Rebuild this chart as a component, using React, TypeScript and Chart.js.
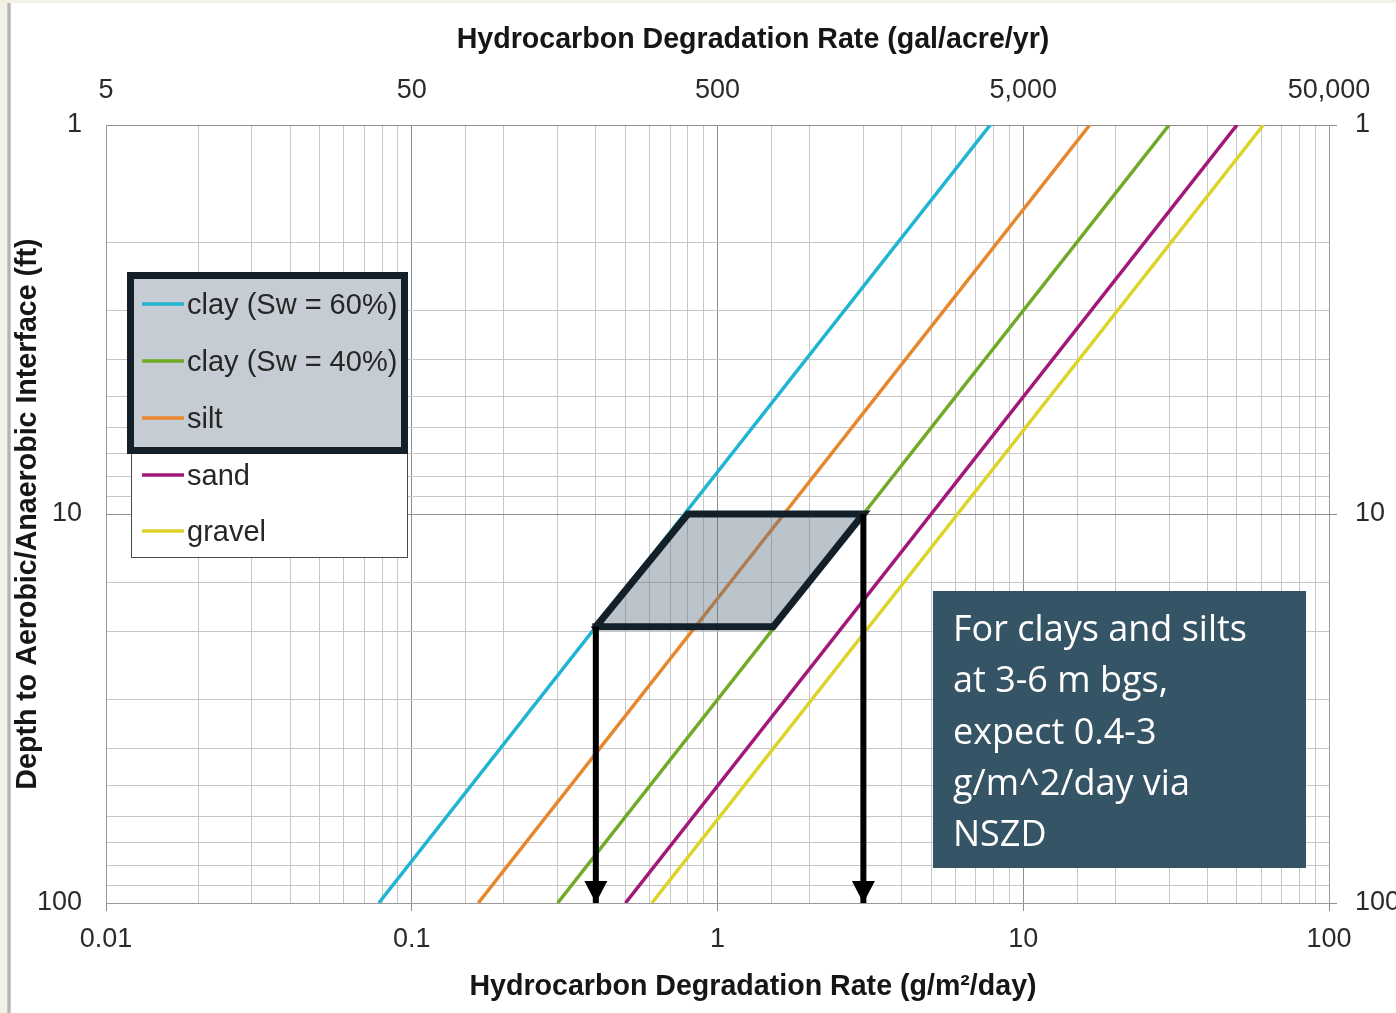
import React, { useEffect, useRef } from 'react';
import { Chart, registerables } from 'chart.js';

Chart.register(...registerables);

// ---- data ----
const DEPTH_FT = [1, 100];
const CLAY_SW60 = [7.8, 0.078];
const CLAY_SW40 = [30, 0.3];
const SILT = [16.5, 0.165];
const SAND = [50, 0.5];
const GRAVEL = [61, 0.61];

const SERIES_LABELS = ['clay (Sw = 60%)', 'clay (Sw = 40%)', 'silt', 'sand', 'gravel'];
const SERIES_VALUES = [CLAY_SW60, CLAY_SW40, SILT, SAND, GRAVEL];
const SERIES_COLORS = ['#1fb4d2', '#6fab25', '#e8862e', '#a2177a', '#ddd42a'];

// shaded range for clays & silts at 3-6 m (≈10-19.5 ft)
const RANGE_RATE = [0.4, 0.8, 3.0, 1.52, 0.4];
const RANGE_DEPTH = [19.5, 10, 10, 19.5, 19.5];

// arrows dropping to the rate axis
const ARROW_RATE = [0.4, 3.0];
const ARROW_START_DEPTH = [19.5, 10];
const ARROW_END_DEPTH = 100;

const X_TICKS = [0.01, 0.1, 1, 10, 100];
const X_LABELS = ['0.01', '0.1', '1', '10', '100'];
const TOP_TICKS = [5, 50, 500, 5000, 50000];
const TOP_LABELS = ['5', '50', '500', '5,000', '50,000'];
const Y_TICKS = [1, 10, 100];
const Y_LABELS = ['1', '10', '100'];

const TOP_TITLE = 'Hydrocarbon Degradation Rate (gal/acre/yr)';
const BOTTOM_TITLE = 'Hydrocarbon Degradation Rate (g/m\u00b2/day)';
const LEFT_TITLE = 'Depth to Aerobic/Anaerobic Interface (ft)';
const NOTE_LINES = ['For clays and silts', 'at 3-6 m bgs,', 'expect 0.4-3', 'g/m^2/day via', 'NSZD'];

const FONT = "'Liberation Sans', Arial, sans-serif";
const MAJOR_GRID = '#8e8e8e';
const MINOR_GRID = '#c6c6c6';

const isMajor = (v: number) => {
  if (!v || v <= 0) return false;
  const l = Math.log10(v);
  return Math.abs(l - Math.round(l)) < 1e-6;
};
const labelFor = (ticks: number[], labels: string[]) => (value: any) => {
  const v = Number(value);
  const i = ticks.findIndex((t) => Math.abs(t - v) / t < 1e-6);
  return i >= 0 ? labels[i] : '';
};

const backgroundPlugin = {
  id: 'pageBackground',
  beforeDraw(chart: any) {
    const { ctx, width, height } = chart;
    ctx.save();
    ctx.fillStyle = '#ffffff';
    ctx.fillRect(0, 0, width, height);
    ctx.fillStyle = '#f3f0e8';
    ctx.fillRect(0, 0, 7, height);
    ctx.fillRect(0, 0, width, 3);
    ctx.fillStyle = '#c9c9c9';
    ctx.fillRect(7, 3, 4, height - 3);
    ctx.fillStyle = '#b5b5b5';
    ctx.fillRect(8, 3, 2, height - 3);
    ctx.restore();
  },
};

const arrowHeadPlugin = {
  id: 'arrowHeads',
  afterDatasetsDraw(chart: any) {
    const ctx = chart.ctx;
    chart.data.datasets.forEach((ds: any, i: number) => {
      if (!ds.isArrow) return;
      const meta = chart.getDatasetMeta(i);
      const end = meta.data[meta.data.length - 1];
      if (!end) return;
      const x = end.x;
      const y = end.y;
      ctx.save();
      ctx.fillStyle = '#000000';
      ctx.beginPath();
      ctx.moveTo(x, y);
      ctx.lineTo(x - 11.5, y - 22);
      ctx.lineTo(x + 11.5, y - 22);
      ctx.closePath();
      ctx.fill();
      ctx.restore();
    });
  },
};

const overlayPlugin = {
  id: 'overlays',
  afterDraw(chart: any) {
    const ctx = chart.ctx;
    ctx.save();

    // legend: white box
    ctx.fillStyle = '#ffffff';
    ctx.fillRect(131.5, 276.5, 276, 281);
    ctx.strokeStyle = '#4a4a4a';
    ctx.lineWidth = 1;
    ctx.strokeRect(131.5, 276.5, 276, 281);
    // highlighted clay/silt block
    ctx.fillStyle = '#c5ccd3';
    ctx.fillRect(127, 272, 281, 182);
    ctx.strokeStyle = '#13202a';
    ctx.lineWidth = 7;
    ctx.strokeRect(130.5, 275.5, 274, 175);

    const legendItems = chart.data.datasets.filter((d: any) => d.inLegend);
    const rowY = [304, 361, 418, 475, 531];
    ctx.font = `29px ${FONT}`;
    ctx.textBaseline = 'middle';
    ctx.textAlign = 'left';
    legendItems.forEach((d: any, i: number) => {
      const y = rowY[i];
      ctx.strokeStyle = d.borderColor;
      ctx.lineWidth = 3.5;
      ctx.beginPath();
      ctx.moveTo(142, y);
      ctx.lineTo(184, y);
      ctx.stroke();
      ctx.fillStyle = '#262626';
      ctx.fillText(d.label, 187, y + 2);
    });

    // note box
    ctx.fillStyle = '#355466';
    ctx.fillRect(933, 591, 373, 277);
    ctx.fillStyle = '#ffffff';
    ctx.font = "36px 'Open Sans', Lato, sans-serif";
    ctx.textBaseline = 'alphabetic';
    NOTE_LINES.forEach((t, i) => {
      ctx.fillText(t, 953, 641 + i * 51.3);
    });

    // axis titles
    ctx.fillStyle = '#161616';
    ctx.font = `bold 28.6px ${FONT}`;
    ctx.textAlign = 'center';
    ctx.textBaseline = 'middle';
    ctx.fillText(TOP_TITLE, 753, 40);
    ctx.fillText(BOTTOM_TITLE, 753, 987);
    ctx.translate(28, 514);
    ctx.rotate(-Math.PI / 2);
    ctx.fillText(LEFT_TITLE, 0, 0);
    ctx.restore();
  },
};

export default function App() {
  const canvasRef = useRef<HTMLCanvasElement | null>(null);

  useEffect(() => {
    document.body.style.margin = '0';
    const canvas = canvasRef.current;
    if (!canvas) return;

    const lineSets = SERIES_LABELS.map((label, i) => ({
      label,
      inLegend: true,
      data: DEPTH_FT.map((d, j) => ({ x: SERIES_VALUES[i][j], y: d })),
      borderColor: SERIES_COLORS[i],
      backgroundColor: SERIES_COLORS[i],
      borderWidth: 3.5,
      pointRadius: 0,
      showLine: true,
      fill: false,
      order: 10 + i,
    }));

    const rangeSet = {
      label: 'range',
      data: RANGE_RATE.map((x, i) => ({ x, y: RANGE_DEPTH[i] })),
      borderColor: '#13202a',
      backgroundColor: 'rgba(93,112,130,0.42)',
      borderWidth: 7,
      borderJoinStyle: 'miter',
      borderCapStyle: 'square',
      pointRadius: 0,
      showLine: true,
      fill: 'shape',
      order: 2,
    };

    const arrowSets = ARROW_RATE.map((x, i) => ({
      label: 'arrow' + i,
      isArrow: true,
      data: [
        { x, y: ARROW_START_DEPTH[i] },
        { x, y: ARROW_END_DEPTH },
      ],
      borderColor: '#000000',
      borderWidth: 6,
      pointRadius: 0,
      showLine: true,
      fill: false,
      order: 0,
    }));

    const tickFont = { family: FONT, size: 27 };
    const tickColor = '#2a2a2a';

    const chart = new Chart(canvas, {
      type: 'scatter',
      data: { datasets: [...arrowSets, rangeSet, ...lineSets] as any },
      plugins: [backgroundPlugin, arrowHeadPlugin, overlayPlugin],
      options: {
        animation: false,
        responsive: true,
        maintainAspectRatio: false,
        layout: { padding: 0 },
        plugins: { legend: { display: false }, tooltip: { enabled: false }, title: { display: false } },
        scales: {
          x: {
            type: 'logarithmic',
            position: 'bottom',
            min: 0.01,
            max: 100,
            afterFit: (s: any) => {
              s.height = 110;
            },
            grid: {
              color: (c: any) => (isMajor(c.tick && c.tick.value) ? MAJOR_GRID : MINOR_GRID),
              lineWidth: 1,
              drawTicks: true,
              tickLength: 8,
              tickColor: (c: any) => (isMajor(c.tick && c.tick.value) ? MAJOR_GRID : 'rgba(0,0,0,0)'),
            },
            border: { display: true, color: '#9a9a9a', width: 1 },
            ticks: {
              autoSkip: false,
              maxRotation: 0,
              minRotation: 0,
              padding: 12,
              font: tickFont,
              color: tickColor,
              callback: labelFor(X_TICKS, X_LABELS),
            },
          },
          x2: {
            type: 'logarithmic',
            position: 'top',
            min: 5,
            max: 50000,
            afterFit: (s: any) => {
              s.height = 125;
            },
            afterBuildTicks: (s: any) => {
              s.ticks = TOP_TICKS.map((v) => ({ value: v }));
            },
            grid: { display: false, drawTicks: false },
            border: { display: false },
            ticks: {
              autoSkip: false,
              maxRotation: 0,
              minRotation: 0,
              padding: 18,
              font: tickFont,
              color: tickColor,
              callback: labelFor(TOP_TICKS, TOP_LABELS),
            },
          },
          y: {
            type: 'logarithmic',
            position: 'left',
            reverse: true,
            min: 1,
            max: 100,
            afterFit: (s: any) => {
              s.width = 106;
            },
            grid: {
              color: (c: any) => (isMajor(c.tick && c.tick.value) ? MAJOR_GRID : MINOR_GRID),
              lineWidth: 1,
              drawTicks: false,
            },
            border: { display: true, color: '#9a9a9a', width: 1 },
            ticks: {
              autoSkip: false,
              padding: 24,
              font: tickFont,
              color: tickColor,
              callback: labelFor(Y_TICKS, Y_LABELS),
            },
          },
          y2: {
            type: 'logarithmic',
            position: 'right',
            reverse: true,
            min: 1,
            max: 100,
            afterFit: (s: any) => {
              s.width = 67;
            },
            afterBuildTicks: (s: any) => {
              s.ticks = Y_TICKS.map((v) => ({ value: v }));
            },
            grid: {
              drawOnChartArea: false,
              drawTicks: true,
              tickLength: 8,
              tickColor: MAJOR_GRID,
            },
            border: { display: true, color: '#9a9a9a', width: 1 },
            ticks: {
              autoSkip: false,
              padding: 18,
              font: tickFont,
              color: tickColor,
              callback: labelFor(Y_TICKS, Y_LABELS),
            },
          },
        },
      } as any,
    });

    return () => {
      chart.destroy();
    };
  }, []);

  return (
    <div style={{ position: 'relative', width: 1396, height: 1013, background: '#ffffff' }}>
      <canvas ref={canvasRef} />
    </div>
  );
}
